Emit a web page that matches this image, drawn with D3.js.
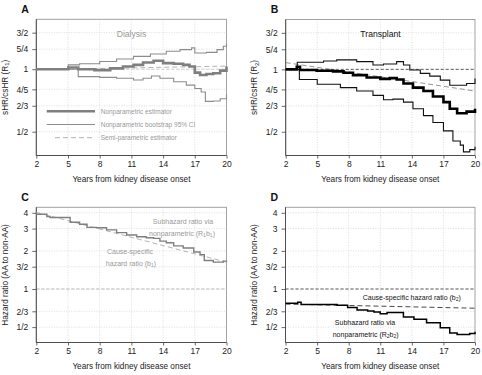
<!DOCTYPE html>
<html>
<head>
<meta charset="utf-8">
<script src="https://cdn.jsdelivr.net/npm/d3@7"></script>
<style>
  body { margin: 0; background: #fff; }
  text { font-family: "Liberation Sans", Arial, sans-serif; }
</style>
</head>
<body>
<script>
// x axis (years) and y tick sets
const years = [2, 5, 8, 11, 14, 17, 20];
const ratioTicks = [1 / 2, 2 / 3, 4 / 5, 1, 5 / 4, 3 / 2];
const ratioLabels = ['1/2', '2/3', '4/5', '1', '5/4', '3/2'];
const hrTicks = [1 / 2, 2 / 3, 1, 3 / 2, 2, 3, 4];
const hrLabels = ['1/2', '2/3', '1', '3/2', '2', '3', '4'];

// panel A - dialysis, [years, sHR/csHR]
const dialysisEst = [[2, 1], [5.03, 1.02], [5.97, 1.0], [7.5, 0.99], [9, 1.01], [10.2, 1.03], [11.2, 1.05], [12.1, 1.078], [13.1, 1.098], [14, 1.07], [15, 1.062], [15.9, 1.05], [16.5, 1.03], [17, 0.963], [17.5, 0.938], [18.1, 0.949], [18.75, 0.956], [19.4, 0.985], [20, 1.03]];
const dialysisUpper = [[2, 1], [5.03, 1.05], [6.1, 1.062], [8, 1.09], [9.6, 1.12], [11.2, 1.153], [12.8, 1.184], [14.3, 1.22], [15.6, 1.243], [16.7, 1.267], [17, 1.197], [18.1, 1.206], [19.1, 1.243], [19.7, 1.29], [20, 1.326]];
const dialysisLower = [[2, 1], [5.97, 0.921], [8, 0.914], [9.6, 0.904], [11.2, 0.887], [12.1, 0.904], [12.9, 0.928], [13.7, 0.904], [15, 0.87], [16.2, 0.838], [17, 0.807], [17.6, 0.777], [18, 0.7], [18.75, 0.703], [19.4, 0.721], [20, 0.758]];
const dialysisSemi = [[2, 0.995], [20, 1.035]];

// panel B - transplant
const transplantEst = [[2, 1], [3.05, 1.03], [3.36, 0.993], [4.95, 0.985], [6.5, 0.978], [7.5, 0.963], [8.4, 0.938], [9.7, 0.914], [11, 0.9], [11.9, 0.907], [12.55, 0.893], [13.2, 0.854], [14.1, 0.816], [15.1, 0.786], [16, 0.74], [17, 0.695], [17.6, 0.645], [18.3, 0.614], [19.2, 0.625], [20, 0.645]];
const transplantUpper = [[2, 1], [3.1, 1.082], [5.6, 1.098], [6.85, 1.111], [8.75, 1.09], [10.3, 1.05], [11.3, 1.062], [12.55, 1.09], [13.2, 1.05], [13.8, 0.993], [14.8, 0.956], [15.7, 0.928], [16.7, 0.887], [17.6, 0.838], [19.2, 0.854], [20, 0.904]];
const transplantLower = [[2, 1], [3.3, 0.893], [5, 0.848], [7.2, 0.816], [8.75, 0.786], [10.3, 0.749], [11.3, 0.713], [12.2, 0.718], [13.2, 0.695], [14.1, 0.645], [15.1, 0.598], [16, 0.554], [17, 0.505], [17.9, 0.451], [18.6, 0.431], [18.9, 0.4], [19.5, 0.41], [20, 0.423]];
const transplantSemi = [[2, 1.078], [20, 0.786]];

// panel C / D - hazard ratios AA to non-AA
const subhazard1 = [[2, 3.9], [3, 3.74], [3.3, 3.67], [5.2, 3.37], [6.1, 3.25], [6.8, 3.07], [7.7, 3.05], [8.65, 2.93], [9.6, 2.79], [10.55, 2.67], [11.5, 2.59], [12.4, 2.54], [13.1, 2.51], [13.7, 2.39], [14.3, 2.32], [15, 2.19], [15.9, 2.11], [16.9, 1.96], [17.5, 1.87], [17.9, 1.68], [18.75, 1.63], [19.7, 1.66], [20, 1.67]];
const causeSpecific1 = [[2, 4.03], [20, 1.63]];
const subhazard2 = [[2, 0.773], [3.16, 0.787], [3.48, 0.754], [6.9, 0.745], [7.9, 0.714], [8.8, 0.684], [9.8, 0.671], [10.4, 0.659], [11, 0.639], [11.65, 0.651], [13.2, 0.601], [14.2, 0.576], [15.4, 0.541], [16.7, 0.494], [17.6, 0.45], [18.3, 0.437], [19.5, 0.445], [20, 0.459]];
const causeSpecific2 = [[2, 0.76], [20, 0.705]];

const W = 482, H = 375;
const svg = d3.select('body').append('svg').attr('width', W).attr('height', H);

// write text where "_x" makes x a subscript
function rich(sel, str) {
  const parts = str.split(/(_.)/).filter(s => s.length);
  let shifted = false;
  parts.forEach(p => {
    if (p[0] === '_') {
      sel.append('tspan').attr('font-size', '0.72em').attr('dy', shifted ? 0 : '0.25em').text(p[1]);
      shifted = true;
    } else {
      sel.append('tspan').attr('dy', shifted ? '-0.18em' : null).text(p);
      shifted = false;
    }
  });
}

function panel(cfg) {
  const g = svg.append('g');
  const x = d3.scaleLinear().domain([2, 20]).range([cfg.left, cfg.right]);
  const y = d3.scaleLog().domain(cfg.domain).range([cfg.bottom, cfg.top]);

  // grid
  g.selectAll('.gx').data(years.slice(1, -1)).enter().append('line')
    .attr('x1', d => x(d)).attr('x2', d => x(d))
    .attr('y1', cfg.top).attr('y2', cfg.bottom)
    .attr('stroke', '#d4d4d4').attr('stroke-width', 0.8).attr('stroke-dasharray', '1,1.5');
  g.selectAll('.gy').data(cfg.ticks).enter().append('line')
    .attr('x1', cfg.left).attr('x2', cfg.right)
    .attr('y1', d => y(d)).attr('y2', d => y(d))
    .attr('stroke', '#d4d4d4').attr('stroke-width', 0.8).attr('stroke-dasharray', '1,1.5');

  // box
  g.append('rect')
    .attr('x', cfg.left).attr('y', cfg.top)
    .attr('width', cfg.right - cfg.left).attr('height', cfg.bottom - cfg.top)
    .attr('fill', 'none').attr('stroke', '#999').attr('stroke-width', 0.9);

  // reference line at 1
  g.append('line')
    .attr('x1', cfg.left).attr('x2', cfg.right)
    .attr('y1', y(1)).attr('y2', y(1))
    .attr('stroke', cfg.refColor).attr('stroke-width', 0.8).attr('stroke-dasharray', '3,2');

  // axes
  const ax = g.append('g').attr('transform', `translate(0,${cfg.bottom})`)
    .call(d3.axisBottom(x).tickValues(years).tickSize(3).tickPadding(2).tickFormat(d3.format('d')));
  const ay = g.append('g').attr('transform', `translate(${cfg.left},0)`)
    .call(d3.axisLeft(y).tickValues(cfg.ticks).tickSize(4).tickPadding(4)
      .tickFormat((d, i) => cfg.labels[i]));
  [ax, ay].forEach(a => {
    a.select('.domain').attr('stroke', '#444').attr('stroke-width', 0.9);
    a.selectAll('.tick line').attr('stroke', '#444').attr('stroke-width', 0.8);
    a.selectAll('.tick text').attr('fill', '#222').attr('font-size', 8.5)
      .attr('font-family', '"Liberation Sans", Arial, sans-serif');
  });
  ax.selectAll('.domain').attr('d', `M${cfg.left},0H${cfg.right}`);
  ay.selectAll('.domain').attr('d', `M0,${cfg.top}V${cfg.bottom}`);

  // titles
  g.append('text')
    .attr('x', (cfg.left + cfg.right) / 2).attr('y', cfg.bottom + 26)
    .attr('text-anchor', 'middle').attr('font-size', 8.2).attr('fill', '#222')
    .text('Years from kidney disease onset');
  const yt = g.append('text')
    .attr('transform', `translate(${cfg.left - 28.5},${(cfg.top + cfg.bottom) / 2}) rotate(-90)`)
    .attr('text-anchor', 'middle').attr('font-size', 8.2).attr('fill', '#222');
  rich(yt, cfg.ylab);
  g.append('text')
    .attr('x', cfg.left - 15).attr('y', cfg.top - 6.5)
    .attr('font-size', 10.5).attr('font-weight', 'bold').attr('fill', '#111')
    .text(cfg.letter);

  const step = d3.line().x(d => x(d[0])).y(d => y(d[1])).curve(d3.curveStepAfter);
  const straight = d3.line().x(d => x(d[0])).y(d => y(d[1]));

  cfg.series.forEach(s => {
    g.append('path').datum(s.data)
      .attr('d', s.dashed ? straight : step)
      .attr('fill', 'none').attr('stroke', s.color).attr('stroke-width', s.width)
      .attr('stroke-dasharray', s.dashed ? '5,3' : null);
  });

  (cfg.notes || []).forEach(n => {
    const t = g.append('text')
      .attr('x', n.x).attr('y', n.y)
      .attr('text-anchor', n.anchor || 'middle')
      .attr('font-size', n.size || 7).attr('fill', n.color);
    rich(t, n.text);
  });
  return { g, x, y };
}

const grey = '#8c8c8c';

// A
const pA = panel({
  letter: 'A', left: 36.3, right: 226.5, top: 19.3, bottom: 155.5,
  domain: [0.384, 1.74], ticks: ratioTicks, labels: ratioLabels,
  ylab: 'sHR/csHR (R_1)', refColor: '#c8c8c8',
  series: [
    { data: dialysisSemi, color: '#aaa', width: 0.9, dashed: true },
    { data: dialysisUpper, color: grey, width: 1.1 },
    { data: dialysisLower, color: grey, width: 1.1 },
    { data: dialysisEst, color: '#7f7f7f', width: 2.6 }
  ],
  notes: [{ x: 131.5, y: 37, text: 'Dialysis', color: '#999', size: 8.6 }]
});

// A legend
const legend = [
  { label: 'Nonparametric estimator', width: 2.6, dash: null, x0: 46.7, color: '#7f7f7f' },
  { label: 'Nonparametric bootstrap 95% CI', width: 1.1, dash: null, x0: 46.7, color: grey },
  { label: 'Semi-parametric estimator', width: 0.9, dash: '5,3', x0: 55, color: '#aaa' }
];
legend.forEach((l, i) => {
  const yy = 111.3 + i * 13.2;
  pA.g.append('line').attr('x1', l.x0).attr('x2', 95).attr('y1', yy).attr('y2', yy)
    .attr('stroke', l.color).attr('stroke-width', l.width).attr('stroke-dasharray', l.dash);
  pA.g.append('text').attr('x', 100.7).attr('y', yy + 2.3)
    .attr('font-size', 6.5).attr('fill', '#999').text(l.label);
});

// B
panel({
  letter: 'B', left: 285.7, right: 475, top: 19.5, bottom: 155.5,
  domain: [0.384, 1.74], ticks: ratioTicks, labels: ratioLabels,
  ylab: 'sHR/csHR (R_2)', refColor: '#333',
  series: [
    { data: transplantSemi, color: '#888', width: 0.9, dashed: true },
    { data: transplantUpper, color: '#111', width: 1.1 },
    { data: transplantLower, color: '#111', width: 1.1 },
    { data: transplantEst, color: '#000', width: 2.6 }
  ],
  notes: [{ x: 380.5, y: 37, text: 'Transplant', color: '#111', size: 8.6 }]
});

// C
panel({
  letter: 'C', left: 36.3, right: 226.5, top: 207.3, bottom: 342.5,
  domain: [0.378, 4.42], ticks: hrTicks, labels: hrLabels,
  ylab: 'Hazard ratio (AA to non-AA)', refColor: '#aaa',
  series: [
    { data: causeSpecific1, color: '#aaa', width: 0.9, dashed: true },
    { data: subhazard1, color: '#7f7f7f', width: 1.4 }
  ],
  notes: [
    { x: 183, y: 224, text: 'Subhazard ratio via', color: '#999' },
    { x: 182, y: 235.8, text: 'nonparametric (R_1b_1)', color: '#999' },
    { x: 130, y: 254, text: 'Cause-specific', color: '#999' },
    { x: 131, y: 266, text: 'hazard ratio (b_1)', color: '#999' }
  ]
});

// D
panel({
  letter: 'D', left: 285.5, right: 475, top: 207.3, bottom: 342.5,
  domain: [0.378, 4.42], ticks: hrTicks, labels: hrLabels,
  ylab: 'Hazard ratio (AA to non-AA)', refColor: '#333',
  series: [
    { data: causeSpecific2, color: '#333', width: 0.9, dashed: true },
    { data: subhazard2, color: '#000', width: 1.5 }
  ],
  notes: [
    { x: 411.8, y: 299.8, text: 'Cause-specific hazard ratio (b_2)', color: '#111' },
    { x: 365, y: 325, text: 'Subhazard ratio via', color: '#111' },
    { x: 365.7, y: 336.8, text: 'nonparametric (R_2b_2)', color: '#111' }
  ]
});
</script>
</body>
</html>
